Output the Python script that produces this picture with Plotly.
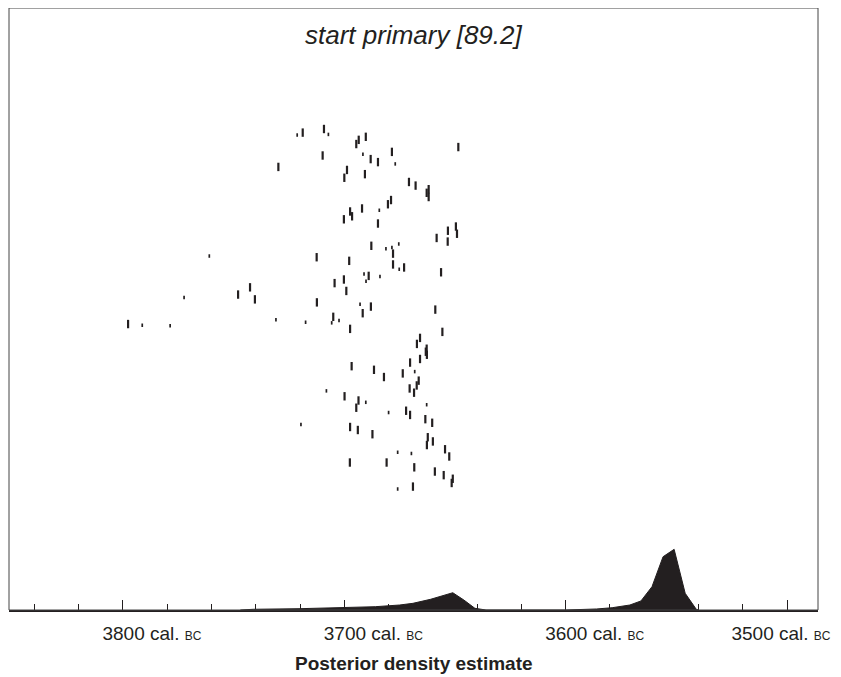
import plotly.graph_objects as go

# ---- data (years cal. BC, reversed axis) ----
dash_year = [3718.8, 3709.2, 3729.8, 3709.8, 3694.6, 3693.5, 3690.3, 3698.8, 3700.0, 3690.7,
             3692.0, 3697.4, 3696.5, 3700.2, 3678.5, 3688.1, 3684.8, 3648.5, 3670.8, 3667.8,
             3661.9, 3662.8, 3661.9, 3678.9, 3680.3, 3684.8, 3649.6, 3653.2, 3649.1, 3658.3,
             3653.3, 3687.8, 3712.5, 3697.8, 3689.0, 3700.2, 3704.4, 3699.1, 3712.4, 3691.7,
             3705.0, 3697.4, 3696.7, 3678.0, 3678.0, 3673.0, 3656.3, 3688.0, 3658.9, 3655.7,
             3665.8, 3667.2, 3662.8, 3663.2, 3662.7, 3665.8, 3670.3, 3686.6, 3682.1, 3673.6,
             3666.4, 3667.3, 3670.5, 3668.5, 3699.9, 3693.6, 3694.6, 3672.1, 3670.3, 3663.4,
             3660.3, 3697.4, 3693.9, 3687.3, 3662.3, 3660.0, 3662.7, 3654.5, 3652.6, 3697.5,
             3680.9, 3668.4, 3659.1, 3655.1, 3651.0, 3651.5, 3669.0, 3742.6, 3748.0, 3740.4,
             3797.7]
dash_pos = [79.3, 79.9, 73.6, 75.5, 77.4, 78.1, 78.6, 73.1, 71.8, 72.4,
            66.7, 66.2, 65.4, 64.9, 76.1, 74.9, 74.4, 76.9, 71.1, 70.5,
            69.9, 69.3, 68.6, 68.1, 67.4, 64.2, 63.7, 63.0, 62.5, 61.8,
            61.2, 60.5, 58.6, 58.0, 55.5, 54.9, 54.3, 53.0, 51.1, 49.3,
            48.7, 46.7, 40.5, 59.2, 57.4, 56.9, 56.1, 50.4, 49.9, 46.2,
            45.2, 44.2, 43.4, 42.9, 42.4, 41.7, 41.1, 39.9, 38.7, 39.3,
            38.1, 37.3, 36.8, 36.1, 35.5, 34.8, 33.6, 33.1, 32.4, 31.7,
            31.1, 30.4, 29.9, 29.2, 28.7, 28.0, 27.4, 26.7, 25.5, 24.5,
            24.5, 23.7, 23.0, 22.4, 21.8, 21.1, 20.5, 53.6, 52.4, 51.6,
            47.5]

dot_year = [3721.3, 3707.2, 3691.6, 3677.0, 3684.2, 3681.2, 3678.5, 3675.4, 3691.1, 3690.2,
            3692.9, 3702.4, 3705.7, 3730.9, 3717.5, 3675.2, 3683.9, 3668.2, 3708.1, 3690.3,
            3680.0, 3662.8, 3719.6, 3675.9, 3669.7, 3675.9, 3761.0, 3772.4, 3791.3, 3778.7]
dot_pos = [78.9, 79.0, 75.7, 74.1, 66.4, 60.0, 60.2, 60.8, 55.8, 54.6,
           50.8, 48.1, 47.7, 48.2, 47.8, 56.6, 55.4, 39.6, 36.4, 34.5,
           32.8, 34.1, 30.8, 26.2, 26.0, 20.1, 58.8, 51.9, 47.3, 47.2]

dens_year = [3747, 3741, 3720, 3700, 3686, 3675, 3669, 3661, 3655, 3651, 3646, 3641, 3636,
             3600, 3586, 3579, 3571, 3566, 3561, 3556, 3551, 3546, 3541, 3540]
dens_prob = [0, 0.12, 0.22, 0.38, 0.55, 0.83, 1.11, 1.78, 2.49, 2.87, 1.66, 0.28, 0,
             0, 0.17, 0.38, 0.83, 1.50, 3.87, 8.85, 10.08, 2.77, 0.12, 0]

tick_vals = [3800, 3700, 3600, 3500]
BC = "<span style='font-size:12px'>BC</span>"
tick_text = [f"{v} cal. {BC}" for v in tick_vals]

title_text = "start primary [89.2]"
xlabel = "Posterior density estimate"

INK = "#231f20"
FONT = "Liberation Sans, Arial, sans-serif"
X_RANGE = [3851.5, 3486.0]

fig = go.Figure()
fig.add_trace(go.Scatter(
    x=dens_year, y=dens_prob, mode="lines", fill="tozeroy",
    line=dict(color=INK, width=1), fillcolor=INK, hoverinfo="skip"))
fig.add_trace(go.Scatter(
    x=dash_year, y=dash_pos, mode="markers",
    marker=dict(symbol="line-ns", size=6, line=dict(color=INK, width=2.2))))
fig.add_trace(go.Scatter(
    x=dot_year, y=dot_pos, mode="markers", xaxis="x2",
    marker=dict(symbol="line-ns", size=2.5, line=dict(color=INK, width=1.7))))

# page body keeps its default 8px margin, so the figure is sized to fit the window
fig.update_layout(
    width=833, height=669,
    margin=dict(l=1, r=23, t=0, b=67),
    paper_bgcolor="white", plot_bgcolor="white",
    showlegend=False,
    font=dict(family=FONT, color=INK),
    xaxis=dict(
        range=X_RANGE, showgrid=False, zeroline=False,
        showline=True, linecolor=INK, linewidth=2, mirror=False,
        ticks="inside", ticklen=10, tickwidth=1, tickcolor=INK,
        tickvals=tick_vals, ticktext=tick_text[:-1] + [""],
        tickfont=dict(size=19, family=FONT),
        ticklabelstandoff=5, ticklabelshift=-29,
        minor=dict(ticks="inside", ticklen=6, tickwidth=1, tickcolor=INK, dtick=20,
                   tick0=3500, showgrid=False),
    ),
    # second axis only carries the last label, pulled in so it fits the page
    xaxis2=dict(
        range=X_RANGE, overlaying="x", anchor="y", side="bottom",
        showgrid=False, zeroline=False, showline=False, ticks="",
        tickvals=tick_vals[-1:], ticktext=tick_text[-1:],
        tickfont=dict(size=19, family=FONT),
        ticklabelstandoff=10, ticklabelshift=6, ticklabeloverflow="allow",
    ),
    yaxis=dict(range=[0, 100], showgrid=False, zeroline=False, showticklabels=False,
               ticks="", showline=False),
    shapes=[dict(type="rect", xref="paper", yref="paper", x0=0, x1=1, y0=0, y1=1,
                 line=dict(color="#444", width=1))],
    annotations=[
        dict(text=title_text, xref="paper", yref="paper", x=0.5, y=1, yanchor="top",
             yshift=-10, showarrow=False,
             font=dict(size=26, style="italic", family=FONT)),
        dict(text=f"<b>{xlabel}</b>", xref="paper", yref="paper", x=0.5, y=0,
             yanchor="middle", yshift=-53, showarrow=False,
             font=dict(size=19, family=FONT)),
    ],
)

fig.write_html("out.html")
